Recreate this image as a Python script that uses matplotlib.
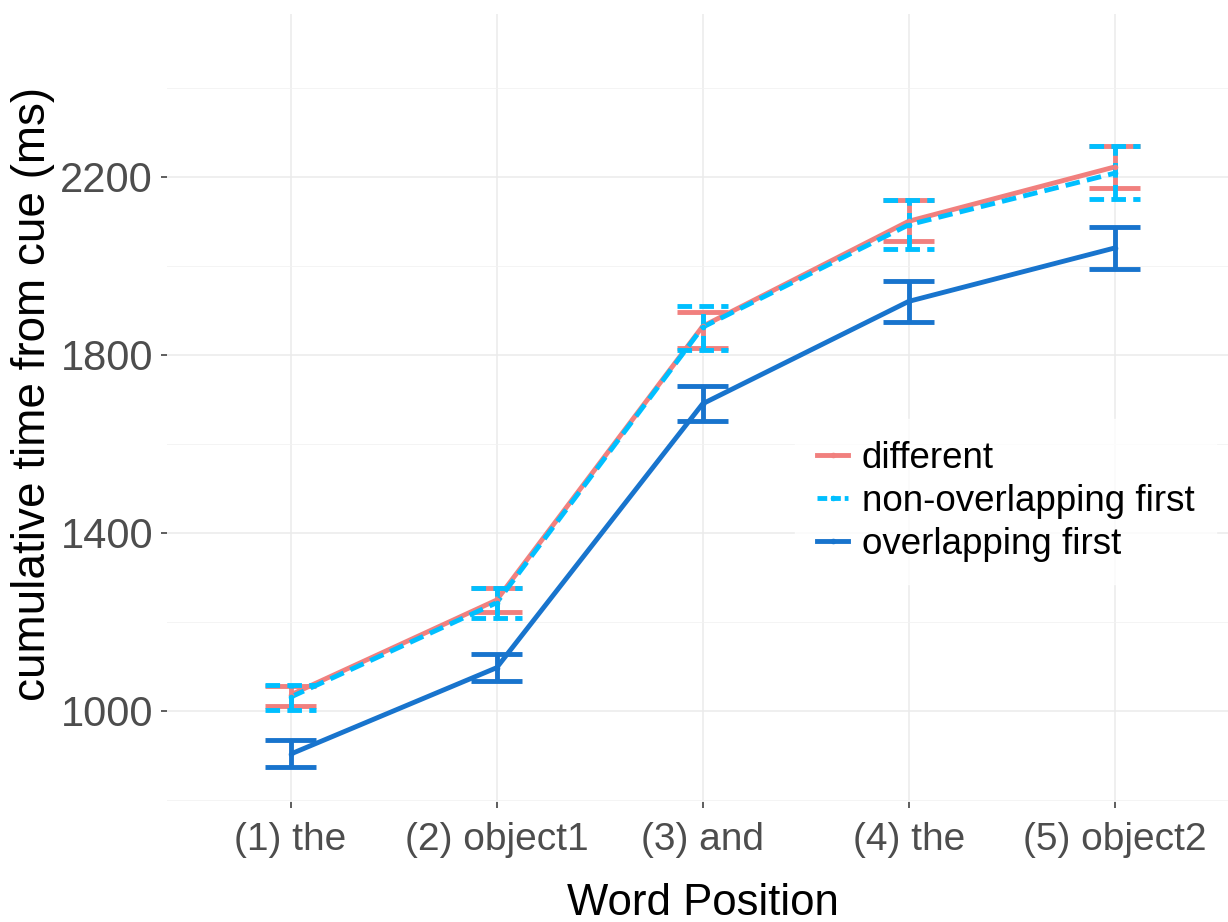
import numpy as np
import matplotlib
matplotlib.use("Agg")
from matplotlib import pyplot as plt
from matplotlib.lines import Line2D

plt.rcParams['font.family'] = ['Liberation Sans', 'DejaVu Sans']

# word positions on the x axis
positions = ['(1) the', '(2) object1', '(3) and', '(4) the', '(5) object2']

# condition means and error bar limits (ms)
diff_mean = [1036, 1249, 1864, 2100, 2222]
diff_lo = [1010, 1223, 1816, 2055, 2175]
diff_hi = [1055, 1276, 1897, 2147, 2270]

nonov_mean = [1031, 1243, 1862, 2092, 2208]
nonov_lo = [1002, 1209, 1810, 2037, 2150]
nonov_hi = [1058, 1276, 1910, 2147, 2270]

ov_mean = [903, 1097, 1690, 1920, 2040]
ov_lo = [874, 1068, 1652, 1873, 1993]
ov_hi = [935, 1128, 1730, 1965, 2086]

labels = ['different', 'non-overlapping first', 'overlapping first']
colors = ['#F1807E', '#00BFFF', '#1874CD']

series = [
    (diff_mean, diff_lo, diff_hi),
    (nonov_mean, nonov_lo, nonov_hi),
    (ov_mean, ov_lo, ov_hi),
]

fig = plt.figure(figsize=(12.28, 9.22), dpi=100, facecolor='w')
ax = fig.add_axes([0.136, 0.130, 0.864, 0.855])

x = np.arange(1, len(positions) + 1)
lw = 3.5
dash = (3.0, 1.5)
cap = 0.125

handles = []
for (mean, lo, hi), col, lab in zip(series, colors, labels):
    dashed = lab == 'non-overlapping first'
    line, = ax.plot(x, mean, color=col, lw=lw, solid_capstyle='butt', zorder=3)
    if dashed:
        line.set_dashes(dash)
    # error bars: stem plus caps
    for xi, l, h in zip(x, lo, hi):
        segs = [([xi, xi], [l, h]), ([xi - cap, xi + cap], [l, l]),
                ([xi - cap, xi + cap], [h, h])]
        for sx, sy in segs:
            seg, = ax.plot(sx, sy, color=col, lw=lw, solid_capstyle='butt', zorder=3)
            if dashed:
                seg.set_dashes(dash)
    ax.plot(x, mean, 'o', color=col, ms=3, zorder=4)
    h = Line2D([], [], color=col, lw=lw, marker='o', ms=3)
    if dashed:
        h.set_dashes((2.0, 0.8))
    handles.append(h)

ax.set_xlim(0.4, 5.55)
ax.set_ylim(795, 2566)
ax.set_xticks(x)
ax.set_xticklabels(positions)
ax.set_yticks([1000, 1400, 1800, 2200])
ax.set_yticks([800, 1200, 1600, 2000, 2400], minor=True)

ax.grid(True, which='major', color='#EBEBEB', lw=1.1, zorder=0)
ax.grid(True, which='minor', axis='y', color='#F2F2F2', lw=0.6, zorder=0)
ax.set_axisbelow(True)
for s in ax.spines.values():
    s.set_visible(False)

ax.tick_params(axis='both', which='major', labelcolor='#4D4D4D',
               color='#333333', length=4, width=1.1, pad=6)
ax.tick_params(axis='y', which='major', labelsize=30)
ax.tick_params(axis='x', which='major', labelsize=28, pad=10)
ax.tick_params(axis='y', which='minor', length=0)

ax.set_xlabel('Word Position', fontsize=31.5, color='black', labelpad=18)
ax.set_ylabel('cumulative time from cue (ms)', fontsize=33, color='black')
ax.yaxis.set_label_coords(-0.106, 0.518)
ax.xaxis.label.set_x(0.505)

leg = ax.legend(handles, labels, loc='upper left', bbox_to_anchor=(0.592, 0.486),
                borderaxespad=0, frameon=True, fancybox=False, fontsize=26.5,
                handlelength=0.85, handletextpad=0.36, labelspacing=0.21,
                borderpad=0.6)
leg.get_frame().set_facecolor('white')
leg.get_frame().set_edgecolor('white')
leg.set_zorder(5)

fig.savefig('out.png', dpi=100, facecolor='w')
